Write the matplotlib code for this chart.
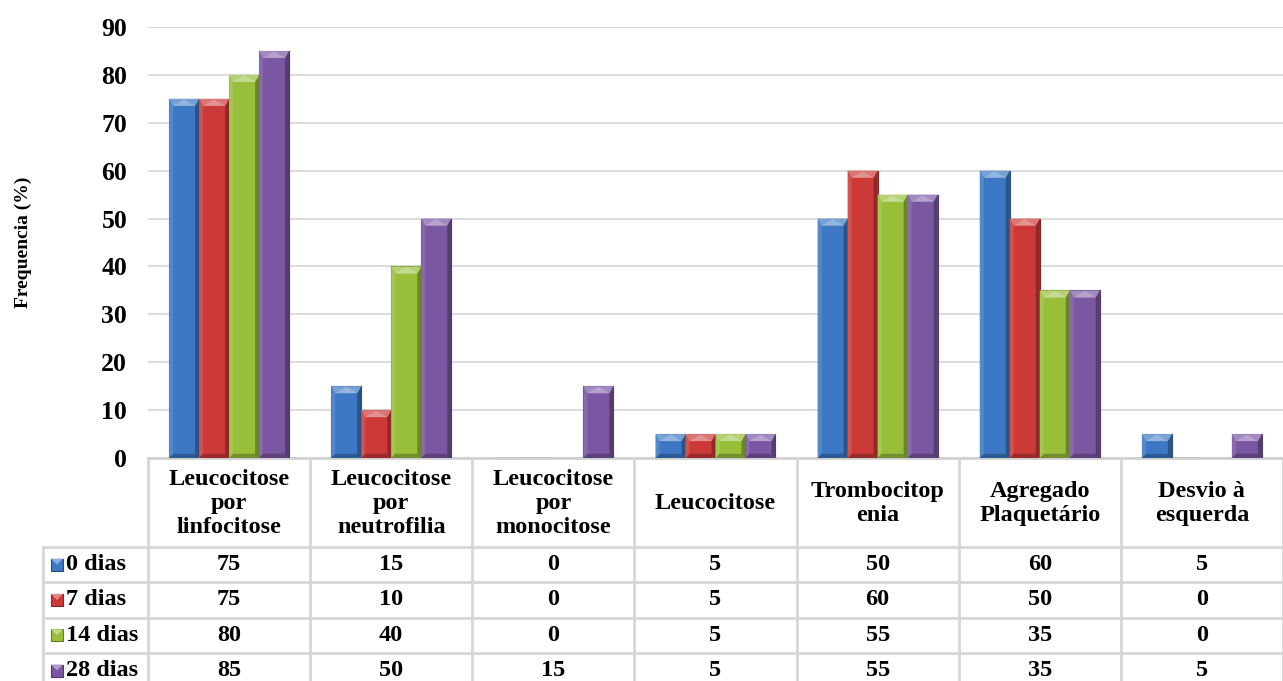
import matplotlib
matplotlib.use("Agg")
import matplotlib.pyplot as plt
from matplotlib.patches import Polygon, Rectangle
import numpy as np

plt.rcParams["font.family"] = ["Liberation Serif", "DejaVu Serif"]
plt.rcParams["font.weight"] = "bold"

categories = ["Leucocitose\npor\nlinfocitose", "Leucocitose\npor\nneutrofilia",
              "Leucocitose\npor\nmonocitose", "Leucocitose", "Trombocitop\nenia",
              "Agregado\nPlaquetário", "Desvio à\nesquerda"]
series = ["0 dias", "7 dias", "14 dias", "28 dias"]
dias_0 = [75, 15, 0, 5, 50, 60, 5]
dias_7 = [75, 10, 0, 5, 60, 50, 0]
dias_14 = [80, 40, 0, 5, 55, 35, 0]
dias_28 = [85, 50, 15, 5, 55, 35, 5]
values = [dias_0, dias_7, dias_14, dias_28]
colors = ["#3C78C3", "#CC3A38", "#98BF3A", "#7A56A3"]
yticks = list(range(0, 100, 10))

W, H = 1283, 681
FS = 17.5
fig = plt.figure(figsize=(W / 100, H / 100), dpi=100)

# geometry in pixels
px_left, px_right = 148, 1283
px_y0, px_y90 = 458, 27
row_lbl_left = 43
header_bottom = 547
row_h = 35.3


def fx(px):
    return px / W


def fy(py):
    return 1 - py / H


ax = fig.add_axes([fx(px_left), fy(px_y0), fx(px_right - px_left), (px_y0 - px_y90) / H])
ax.set_xlim(-0.5, len(categories) - 0.5)
ax.set_ylim(0, 90)
ax.set_yticks(yticks)
ax.set_yticklabels([str(t) for t in yticks], fontsize=18.5, fontweight="bold")
ax.tick_params(axis="y", length=0, pad=15)
ax.tick_params(axis="x", length=0, labelbottom=False)
ax.grid(axis="y", color="#D9D9D9", lw=1.3)
ax.set_axisbelow(True)
for s in ["top", "right", "left"]:
    ax.spines[s].set_visible(False)
ax.spines["bottom"].set_color("#D0D0D0")
ax.spines["bottom"].set_linewidth(2)
ax.set_ylabel("Frequencia (%)", fontsize=14, fontweight="bold")
ax.yaxis.set_label_coords((32 - px_left) / (px_right - px_left), 0.5)

bw = 0.185
x = np.arange(len(categories))
# units per pixel, for the bevel shapes
ux = (len(categories)) / (px_right - px_left)
uy = 90 / (px_y0 - px_y90)


def shade(c, f):
    rgb = np.array(matplotlib.colors.to_rgb(c))
    if f > 0:
        rgb = rgb + (1 - rgb) * f
    else:
        rgb = rgb * (1 + f)
    return tuple(np.clip(rgb, 0, 1))


for i, (vals, col) in enumerate(zip(values, colors)):
    xs = x - 2 * bw + i * bw
    bars = ax.bar(xs, vals, width=bw, align="edge", color=col,
                  edgecolor=shade(col, -0.35), lw=0.8, zorder=3)
    for b in bars:
        h = b.get_height()
        if h <= 0:
            continue
        x0, x1 = b.get_x(), b.get_x() + b.get_width()
        ex, ey = 4 * ux, 7 * uy
        ey = min(ey, h / 2)
        # dark right edge, light left edge
        ax.add_patch(Polygon([(x1 - ex, 0), (x1, 0), (x1, h), (x1 - ex, h - ey)],
                             closed=True, color=shade(col, -0.3), lw=0, zorder=4))
        ax.add_patch(Polygon([(x0, 0), (x0 + ex, 0), (x0 + ex, h - ey), (x0, h)],
                             closed=True, color=shade(col, 0.12), lw=0, zorder=4))
        # top bevel
        ax.add_patch(Polygon([(x0, h), (x1, h), (x1 - ex, h - ey), (x0 + ex, h - ey)],
                             closed=True, color=shade(col, 0.3), lw=0, zorder=4))
        ax.add_patch(Polygon([(x0 + ex, h - ey), (x1 - ex, h - ey), ((x0 + x1) / 2, h - ey * 0.1)],
                             closed=True, color=shade(col, 0.45), lw=0, zorder=4))
        # bottom darkening
        ax.add_patch(Polygon([(x0, 0), (x1, 0), (x1 - ex, min(ey, h) * 0.6), (x0 + ex, min(ey, h) * 0.6)],
                             closed=True, color=shade(col, -0.25), lw=0, zorder=4))

# data table below the plot, drawn in pixel space
tab = fig.add_axes([0, 0, 1, 1])
tab.set_xlim(0, W)
tab.set_ylim(H, 0)
tab.axis("off")
grid_c = "#D6D6D6"
cw = (px_right - px_left) / len(categories)
n_rows = len(series)
bottom = header_bottom + n_rows * row_h

# vertical lines
for k in range(len(categories) + 1):
    xx = px_left + k * cw
    tab.plot([xx, xx], [px_y0, bottom], color=grid_c, lw=2)
tab.plot([row_lbl_left, row_lbl_left], [header_bottom, bottom], color=grid_c, lw=2)
# horizontal lines
for r in range(n_rows + 1):
    yy = header_bottom + r * row_h
    tab.plot([row_lbl_left, px_right], [yy, yy], color=grid_c, lw=2)

for k, cat in enumerate(categories):
    cx = px_left + (k + 0.5) * cw
    tab.text(cx, (px_y0 + header_bottom) / 2 + 1, cat, ha="center", va="center",
             fontsize=FS, fontweight="bold", linespacing=1.2)
    for r, vals in enumerate(values):
        cy = header_bottom + (r + 0.5) * row_h
        tab.text(cx, cy, str(vals[k]), ha="center", va="center",
                 fontsize=FS, fontweight="bold")

for r, (name, col) in enumerate(zip(series, colors)):
    cy = header_bottom + (r + 0.5) * row_h
    tab.add_patch(Rectangle((51, cy - 6), 12, 12, facecolor=col,
                            edgecolor=shade(col, -0.35), lw=0.8))
    tab.add_patch(Polygon([(51, cy - 6), (63, cy - 6), (57, cy)], closed=True,
                          color=shade(col, 0.4), lw=0))
    tab.text(66, cy, name, ha="left", va="center", fontsize=FS, fontweight="bold")

fig.savefig("out.png", dpi=100)
